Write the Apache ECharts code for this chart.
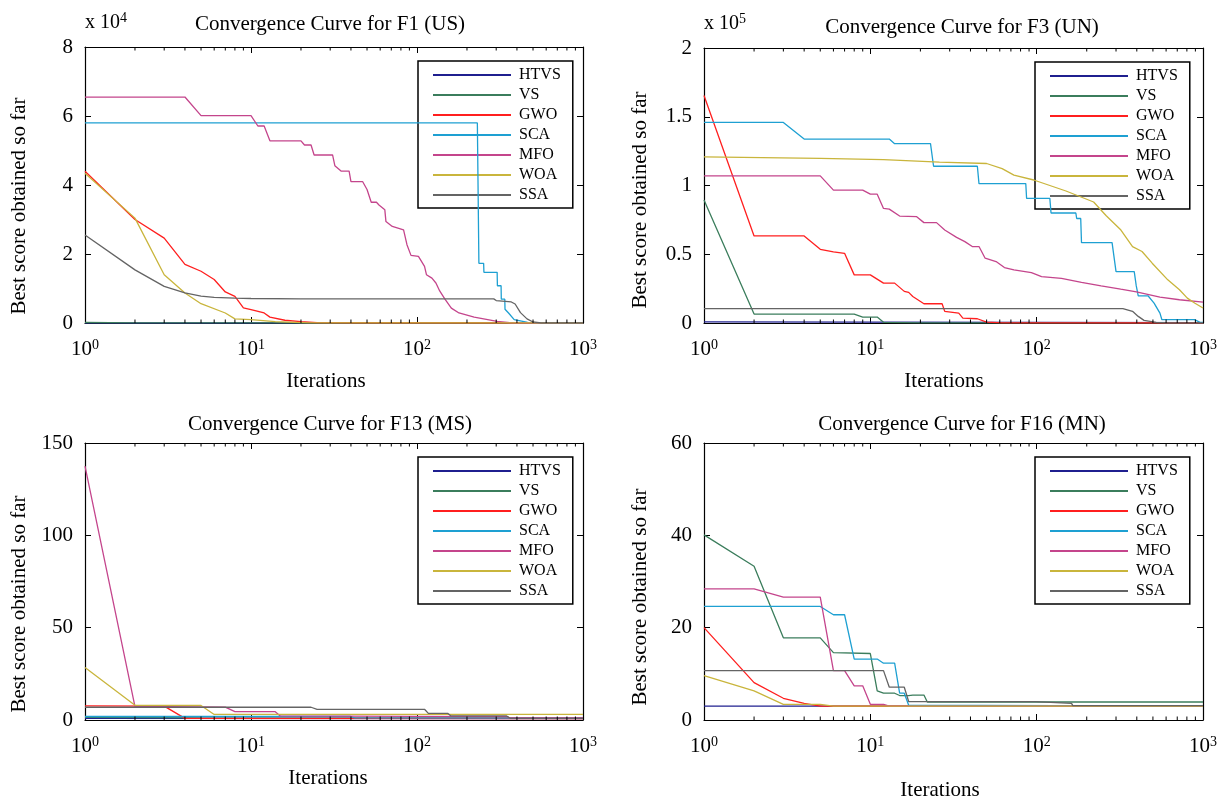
<!DOCTYPE html>
<html>
<head>
<meta charset="utf-8">
<script src="https://cdn.jsdelivr.net/npm/echarts/dist/echarts.min.js"></script>
<style>
html,body{margin:0;padding:0;background:#fff;}
#chart{width:1225px;height:803px;}
</style>
</head>
<body>
<div id="chart"></div>
<script>
// ---------------- data ----------------
const algorithms = ['HTVS', 'VS', 'GWO', 'SCA', 'MFO', 'WOA', 'SSA'];
const algoColors = ['#1f1f8f', '#3b7d5c', '#ff1f1f', '#1ea0d2', '#c4458c', '#c9b53c', '#646464'];
const minorTicks = [2,3,4,5,6,7,8,9,20,30,40,50,60,70,80,90,200,300,400,500,600,700,800,900];
const panelTitles = ['Convergence Curve for F1 (US)', 'Convergence Curve for F3 (UN)', 'Convergence Curve for F13 (MS)', 'Convergence Curve for F16 (MN)'];

// F1 (US), raw values (axis shown in units of 1e4)
const f1HTVS = [[1,0],[1000,0]];
const f1VS = [[1,150],[2,60],[10,10],[30,0],[1000,0]];
const f1GWO = [[1,44000],[2,30000],[3,24600],[4,17000],[5,15000],[6,12600],[7,9000],[8,7700],[9,4400],[10,3900],[12,2900],[13,1700],[16,800],[20,400],[25,100],[40,20],[1000,0]];
const f1SCA = [[1,58000],[231,58000],[236,17300],[252,17300],[253,14700],[304,14700],[305,10800],[321,10800],[322,6900],[338,6900],[339,4000],[356,2900],[385,1000],[464,200],[550,0],[1000,0]];
const f1MFO = [[1,65500],[4,65500],[5,60100],[10,60100],[11,57100],[12,57100],[13,52800],[20,52800],[21,51600],[23,51600],[24,48700],[31,48700],[32,45600],[35,44000],[39,44000],[40,41000],[47,41000],[50,38700],[53,35000],[57,35000],[59,34200],[64,32800],[65,29400],[71,28000],[83,27000],[87,22700],[92,19600],[102,19300],[111,16400],[114,14000],[123,13000],[130,11600],[137,9300],[147,7000],[161,4300],[179,2900],[221,1700],[304,500],[375,0],[1000,0]];
const f1WOA = [[1,43400],[2,30400],[3,14000],[4,8700],[5,5600],[7,2900],[8,1200],[10,1000],[14,400],[22,50],[1000,0]];
const f1SSA = [[1,25500],[2,15400],[3,10600],[4,8700],[5,7800],[6,7400],[8,7200],[10,7100],[20,7000],[290,7000],[300,6500],[370,6100],[390,5500],[420,3000],[460,1200],[500,300],[560,0],[1000,0]];

// F3 (UN), raw values (axis shown in units of 1e5)
const f3HTVS = [[1,800],[1000,300]];
const f3VS = [[1,89400],[2,6500],[8,6500],[9,4300],[11,4300],[12,500],[20,100],[1000,0]];
const f3GWO = [[1,165500],[2,63300],[4,63300],[5,53600],[6,51800],[7,50700],[8,35000],[10,35000],[12,29000],[14,29000],[16,23000],[17,22300],[18,19300],[21,14000],[27,14000],[28,8500],[34,7200],[36,3600],[44,3100],[50,700],[62,100],[1000,0]];
const f3SCA = [[1,145900],[3,145900],[4,133800],[13,133800],[14,130400],[23,130400],[24,114000],[44,114000],[45,101400],[86,101400],[87,90600],[120,90600],[122,80000],[172,80000],[174,76000],[184,76000],[186,58400],[284,58400],[300,37400],[386,37400],[397,27000],[408,19800],[467,19800],[508,14500],[551,7200],[566,2400],[890,2400],[960,500],[1000,500]];
const f3MFO = [[1,107000],[5,107000],[6,96600],[9,96600],[10,93700],[11,93700],[12,83300],[13,82800],[15,77800],[19,77300],[21,73000],[25,73000],[28,67600],[33,62300],[37,59200],[41,55600],[45,55600],[49,47100],[57,44700],[64,40300],[73,38600],[93,36700],[107,33800],[141,32400],[186,29500],[244,27000],[320,24600],[398,22700],[551,18800],[722,16900],[1000,15200]];
const f3WOA = [[1,120800],[5,119800],[12,118800],[26,117000],[50,116000],[62,112300],[73,107500],[96,104000],[150,96000],[220,88000],[262,78000],[321,67600],[377,55600],[430,52000],[495,43500],[614,31400],[722,24200],[805,18100],[890,14500],[1000,10900]];
const f3SSA = [[1,10400],[330,10400],[377,8500],[408,4800],[442,1900],[523,500],[614,0],[1000,0]];

// F13 (MS)
const f13HTVS = [[1,0.9],[1000,0.8]];
const f13VS = [[1,1.5],[5,1.2],[1000,1.0]];
const f13GWO = [[1,7.6],[3,7.5],[4,0.9],[1000,0.8]];
const f13SCA = [[1,1.9],[40,1.9],[42,1.2],[1000,1.0]];
const f13MFO = [[1,137.5],[2,7.3],[7,7.0],[8,4.5],[14,4.5],[15,2.2],[100,2.0],[350,1.8],[360,1.2],[1000,1.2]];
const f13WOA = [[1,28.4],[2,8.0],[5,7.9],[6,3.0],[1000,3.0]];
const f13SSA = [[1,6.9],[23,6.9],[25,5.8],[111,5.8],[117,3.6],[153,3.6],[160,2.2],[347,2.2],[364,0.9],[1000,0.9]];

// F16 (MN)
const f16HTVS = [[1,3.0],[1000,3.0]];
const f16VS = [[1,40.1],[2,33.3],[3,17.8],[5,17.8],[6,14.6],[10,14.4],[11,6.3],[12,5.8],[14,5.8],[15,5.3],[17,5.3],[18,5.4],[21,5.4],[22,3.9],[1000,3.9]];
const f16GWO = [[1,20.0],[2,8.1],[3,4.7],[4,3.6],[5,3.0],[1000,3.0]];
const f16SCA = [[1,24.6],[5,24.6],[6,22.8],[7,22.8],[8,13.2],[11,13.2],[12,12.3],[14,12.3],[15,5.8],[16,5.8],[17,3.2],[1000,3.0]];
const f16MFO = [[1,28.4],[2,28.4],[3,26.6],[5,26.6],[6,10.7],[7,10.7],[8,7.4],[9,7.4],[10,3.4],[12,3.4],[13,3.0],[1000,3.0]];
const f16WOA = [[1,9.6],[2,6.3],[3,3.4],[5,3.4],[6,3.0],[1000,3.0]];
const f16SSA = [[1,10.7],[12,10.7],[13,7.1],[16,7.1],[17,4.0],[98,4.0],[100,3.6],[162,3.6],[165,3.1],[1000,3.1]];

const panelData = [
  [f1HTVS, f1VS, f1GWO, f1SCA, f1MFO, f1WOA, f1SSA],
  [f3HTVS, f3VS, f3GWO, f3SCA, f3MFO, f3WOA, f3SSA],
  [f13HTVS, f13VS, f13GWO, f13SCA, f13MFO, f13WOA, f13SSA],
  [f16HTVS, f16VS, f16GWO, f16SCA, f16MFO, f16WOA, f16SSA]
];
const yMax = [80000, 200000, 150, 60];
const yInterval = [20000, 50000, 50, 20];
const yScale = [1e4, 1e5, 1, 1];
const multiplierExp = ['4', '5', null, null];

// ---------------- layout ----------------
const FONT = 'Liberation Serif';
const grids = [
  {left: 85, top: 47, width: 498, height: 276},
  {left: 704, top: 48, width: 499, height: 275},
  {left: 85, top: 443, width: 498, height: 277},
  {left: 704, top: 443, width: 499, height: 277}
];
const titlePos = [[330, 24], [962, 27], [330, 424], [962, 424]];
const xNamePos = [[326, 381], [944, 381], [328, 778], [940, 790]];
const yNamePos = [[19, 206], [640, 200], [19, 604], [640, 597]];
const legendPos = [[418, 61], [1035, 62], [418, 457], [1035, 457]];

const xAxes = [], yAxes = [], series = [], legends = [], graphics = [];
const black = '#000';

grids.forEach((g, i) => {
  const common = {
    type: 'log', logBase: 10, min: 1, max: 1000, gridIndex: i,
    splitLine: {show: false},
    axisLine: {show: true, onZero: false, lineStyle: {color: black, width: 1.2}},
    axisTick: {inside: true, length: 6, lineStyle: {color: black, width: 1}}
  };
  xAxes.push(Object.assign({}, common, {
    position: 'bottom',
    axisLabel: {
      margin: 15, color: black,
      formatter: v => '{b|10}{s|' + Math.round(Math.log10(v)) + '}',
      rich: {
        b: {fontFamily: FONT, fontSize: 21, lineHeight: 22, verticalAlign: 'bottom', color: black},
        s: {fontFamily: FONT, fontSize: 14, lineHeight: 14, verticalAlign: 'top', padding: [0, 0, 14, 0], color: black}
      }
    }
  }));
  xAxes.push(Object.assign({}, common, {position: 'top', axisLabel: {show: false}}));
  const ycommon = {
    type: 'value', min: 0, max: yMax[i], interval: yInterval[i], gridIndex: i,
    splitLine: {show: false},
    axisLine: {show: true, onZero: false, lineStyle: {color: black, width: 1.2}},
    axisTick: {show: true, inside: true, length: 6, lineStyle: {color: black, width: 1}}
  };
  yAxes.push(Object.assign({}, ycommon, {
    position: 'left',
    axisLabel: {margin: 12, color: black, fontFamily: FONT, fontSize: 21,
      formatter: v => String(+(v / yScale[i]).toFixed(2))}
  }));
  yAxes.push(Object.assign({}, ycommon, {position: 'right', axisLabel: {show: false}}));

  panelData[i].forEach((d, k) => {
    series.push({
      name: algorithms[k], type: 'line', data: d,
      xAxisIndex: 2 * i, yAxisIndex: 2 * i,
      symbol: 'none', showSymbol: false, smooth: false,
      lineStyle: {color: algoColors[k], width: 1.3},
      itemStyle: {color: algoColors[k]},
      emphasis: {disabled: true}, animation: false, z: 3 + k
    });
  });
  // minor ticks on log axis (top and bottom)
  series.push({
    type: 'custom', xAxisIndex: 2 * i, yAxisIndex: 2 * i, silent: true, animation: false,
    data: minorTicks.map(t => [t, 0]), clip: false, z: 20,
    renderItem: (params, api) => {
      const x = api.coord([api.value(0), 0])[0];
      const cs = params.coordSys;
      const st = {stroke: black, lineWidth: 1};
      return {type: 'group', children: [
        {type: 'line', shape: {x1: x, y1: cs.y + cs.height, x2: x, y2: cs.y + cs.height - 3.5}, style: st},
        {type: 'line', shape: {x1: x, y1: cs.y, x2: x, y2: cs.y + 3.5}, style: st}
      ]};
    }
  });

  legends.push({
    data: algorithms, left: legendPos[i][0], top: legendPos[i][1],
    orient: 'vertical', icon: 'rect', itemWidth: 78, itemHeight: 2, itemGap: 4,
    selectedMode: false,
    backgroundColor: '#fff', borderColor: black, borderWidth: 1.5, borderRadius: 0,
    padding: [6, 12, 5, 15],
    textStyle: {fontFamily: FONT, fontSize: 16, color: black, lineHeight: 16, padding: [0, 0, 0, 3]}
  });

  graphics.push({type: 'text', x: titlePos[i][0], y: titlePos[i][1], z: 100,
    style: {text: panelTitles[i], fill: black, font: '21px "' + FONT + '"', align: 'center', verticalAlign: 'middle'}});
  graphics.push({type: 'text', x: xNamePos[i][0], y: xNamePos[i][1], z: 100,
    style: {text: 'Iterations', fill: black, font: '21px "' + FONT + '"', align: 'center', verticalAlign: 'middle'}});
  graphics.push({type: 'text', x: yNamePos[i][0], y: yNamePos[i][1], rotation: Math.PI / 2, z: 100,
    style: {text: 'Best score obtained so far', fill: black, font: '21px "' + FONT + '"', align: 'center', verticalAlign: 'middle'}});
  if (multiplierExp[i]) {
    graphics.push({type: 'text', x: g.left, y: g.top - 25, z: 100,
      style: {text: '{a|x 10}{s|' + multiplierExp[i] + '}', align: 'left', verticalAlign: 'middle',
        rich: {
          a: {fontFamily: FONT, fontSize: 20, lineHeight: 22, verticalAlign: 'bottom', fill: black},
          s: {fontFamily: FONT, fontSize: 14, lineHeight: 14, verticalAlign: 'top', padding: [0, 0, 14, 0], fill: black}
        }}});
  }
});

const chart = echarts.init(document.getElementById('chart'), null, {renderer: 'canvas'});
chart.setOption({
  animation: false,
  backgroundColor: '#fff',
  grid: grids.map(g => Object.assign({containLabel: false}, g)),
  xAxis: xAxes, yAxis: yAxes,
  legend: legends,
  series: series,
  graphic: graphics
});
</script>
</body>
</html>
